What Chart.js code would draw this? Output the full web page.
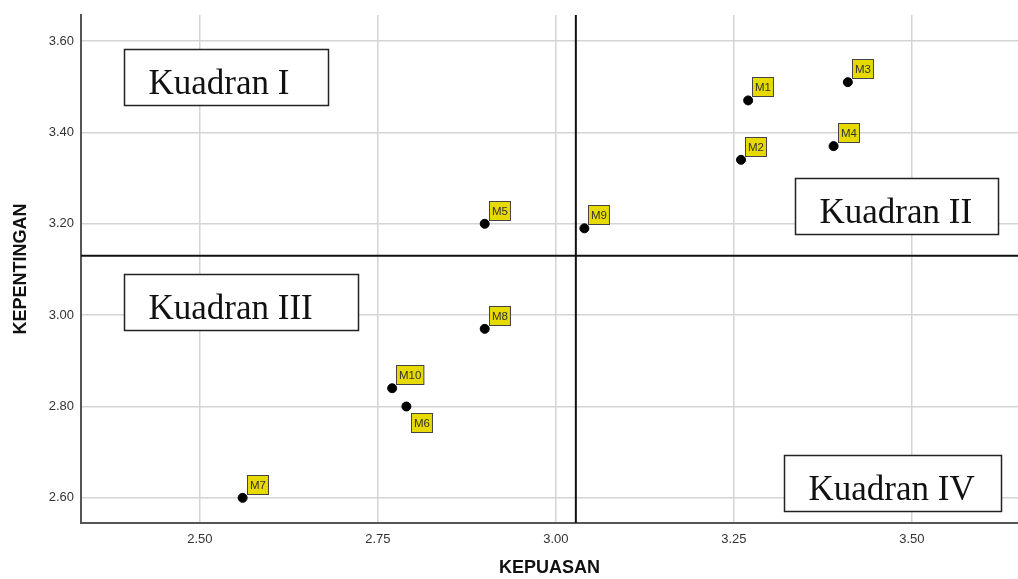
<!DOCTYPE html>
<html>
<head>
  <title>Kuadran Kepuasan vs Kepentingan</title>
  <script src="https://cdn.jsdelivr.net/npm/chart.js"></script>
  <style>
    body {
      margin: 0;
      background: #fff;
    }
  </style>
</head>
<body>
  <canvas id="quadChart" width="1018" height="579"></canvas>

  <script>
    // data
    const labels = ["M1", "M2", "M3", "M4", "M5", "M6", "M7", "M8", "M9", "M10"];
    const kepuasan = [3.27, 3.26, 3.41, 3.39, 2.90, 2.79, 2.56, 2.90, 3.04, 2.77];
    const kepentingan = [3.47, 3.34, 3.51, 3.37, 3.20, 2.80, 2.60, 2.97, 3.19, 2.84];

    const xTicks = [2.50, 2.75, 3.00, 3.25, 3.50];
    const yTicks = [2.60, 2.80, 3.00, 3.20, 3.40, 3.60];

    // mean lines dividing the quadrants
    const meanX = 3.028;
    const meanY = 3.13;

    const quadrants = ["Kuadran I", "Kuadran II", "Kuadran III", "Kuadran IV"];

    const points = kepuasan.map((x, i) => ({ x: x, y: kepentingan[i] }));

    // quadrant lines + boxes
    const quadPlugin = {
      id: "quadPlugin",
      afterDatasetsDraw(chart) {
        const { ctx, chartArea, scales } = chart;
        const px = scales.x.getPixelForValue(meanX);
        const py = scales.y.getPixelForValue(meanY);
        ctx.save();
        ctx.strokeStyle = "#111";
        ctx.lineWidth = 2;
        ctx.beginPath();
        ctx.moveTo(px, chartArea.top);
        ctx.lineTo(px, chartArea.bottom);
        ctx.moveTo(chartArea.left, py);
        ctx.lineTo(chartArea.right, py);
        ctx.stroke();

        // box anchors (top-left) in axis units, box widths in px
        const boxes = [
          { x: 2.393, y: 3.582, w: 204 },
          { x: 3.336, y: 3.300, w: 203 },
          { x: 2.393, y: 3.090, w: 234 },
          { x: 3.320, y: 2.693, w: 217 }
        ];
        ctx.font = "35px 'Liberation Serif'";
        ctx.textBaseline = "alphabetic";
        ctx.textAlign = "left";
        boxes.forEach((b, i) => {
          const bx = Math.round(scales.x.getPixelForValue(b.x)) + 0.5;
          const by = Math.round(scales.y.getPixelForValue(b.y)) + 0.5;
          ctx.fillStyle = "#fff";
          ctx.fillRect(bx, by, b.w, 56);
          ctx.strokeStyle = "#222";
          ctx.lineWidth = 1.5;
          ctx.strokeRect(bx, by, b.w, 56);
          ctx.fillStyle = "#111";
          ctx.fillText(quadrants[i], bx + 24, by + 44);
        });
        ctx.restore();
      }
    };

    // yellow point labels
    const labelPlugin = {
      id: "labelPlugin",
      afterDatasetsDraw(chart) {
        const { ctx } = chart;
        const meta = chart.getDatasetMeta(0);
        ctx.save();
        ctx.font = "11.5px 'Liberation Sans'";
        ctx.textBaseline = "middle";
        ctx.textAlign = "left";
        meta.data.forEach((el, i) => {
          const txt = labels[i];
          const w = ctx.measureText(txt).width + 5;
          const h = 19;
          let bx = el.x + 4;
          let by = el.y - 4 - h;
          if (txt === "M6") {
            by = el.y + 6;
            bx = el.x + 5;
          }
          bx = Math.round(bx) + 0.5;
          by = Math.round(by) + 0.5;
          ctx.fillStyle = "#e6da00";
          ctx.fillRect(bx, by, w, h);
          ctx.strokeStyle = "#444";
          ctx.lineWidth = 1;
          ctx.strokeRect(bx, by, w, h);
          ctx.fillStyle = "#333";
          ctx.fillText(txt, bx + 2.5, by + h / 2 + 0.5);
        });
        ctx.restore();
      }
    };

    const ctx = document.getElementById("quadChart").getContext("2d");
    new Chart(ctx, {
      type: "scatter",
      data: {
        datasets: [
          {
            label: "Atribut",
            data: points,
            backgroundColor: "#000",
            borderColor: "#000",
            pointRadius: 4.5,
            pointHoverRadius: 4.5
          }
        ]
      },
      options: {
        responsive: false,
        animation: false,
        layout: { autoPadding: false, padding: { top: 15, right: 0, left: 0, bottom: 0 } },
        plugins: {
          legend: { display: false },
          tooltip: { enabled: false }
        },
        scales: {
          x: {
            type: "linear",
            min: 2.333,
            max: 3.649,
            afterBuildTicks: s => { s.ticks = xTicks.map(v => ({ value: v })); },
            afterFit: s => { s.height = 56; s.paddingLeft = 0; s.paddingRight = 0; },
            grid: { color: "#d4d4d4", lineWidth: 1.5, drawTicks: false },
            border: { color: "#555", width: 2 },
            ticks: {
              padding: 9,
              color: "#333",
              font: { family: "'Liberation Sans'", size: 13 },
              callback: v => v.toFixed(2)
            },
            title: {
              display: true,
              text: "KEPUASAN",
              color: "#111",
              font: { family: "'Liberation Sans'", size: 18, weight: "bold" },
              padding: { top: 18, bottom: 0 }
            }
          },
          y: {
            type: "linear",
            min: 2.545,
            max: 3.657,
            afterBuildTicks: s => { s.ticks = yTicks.map(v => ({ value: v })); },
            afterFit: s => { s.width = 81; s.paddingTop = 0; s.paddingBottom = 0; },
            grid: { color: "#d4d4d4", lineWidth: 1.5, drawTicks: false },
            border: { color: "#555", width: 2 },
            ticks: {
              padding: 7,
              color: "#333",
              font: { family: "'Liberation Sans'", size: 13 },
              callback: v => v.toFixed(2)
            },
            title: {
              display: true,
              text: "KEPENTINGAN",
              color: "#111",
              font: { family: "'Liberation Sans'", size: 18, weight: "bold" },
              padding: { top: 10, bottom: 0 }
            }
          }
        }
      },
      plugins: [quadPlugin, labelPlugin]
    });
  </script>
</body>
</html>
